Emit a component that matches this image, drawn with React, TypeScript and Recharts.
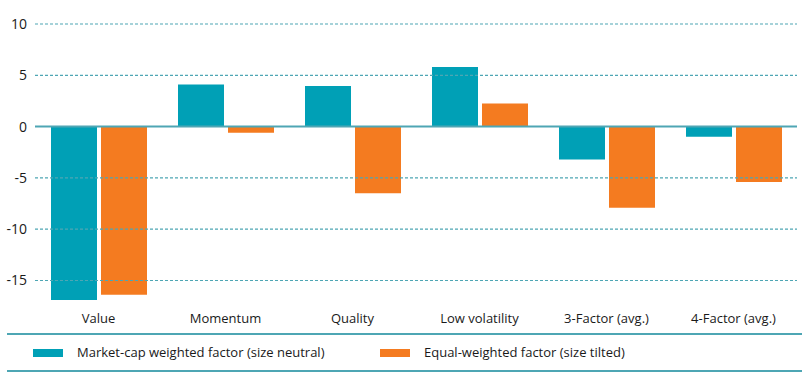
import { BarChart, Bar, XAxis, YAxis, ReferenceLine } from "recharts";

const categories = ["Value", "Momentum", "Quality", "Low volatility", "3-Factor (avg.)", "4-Factor (avg.)"];
const marketCap = [-16.9, 4.1, 3.95, 5.8, -3.2, -1.0];
const equalWeighted = [-16.4, -0.6, -6.5, 2.25, -7.9, -5.4];
const yTicks = [-15, -10, -5, 0, 5, 10];

const seriesNames = ["Market-cap weighted factor (size neutral)", "Equal-weighted factor (size tilted)"];
const TEAL = "#00a0b6";
const ORANGE = "#f47b20";
const LINE = "#4ea6b4";
const FONT = "'Open Sans', sans-serif";

const data = categories.map((name, i) => ({
  name,
  mcap: marketCap[i],
  ew: equalWeighted[i],
}));

const App = () => {
  return (
    <div style={{ position: "absolute", left: 0, top: 0, width: 807, height: 386, background: "#fff", fontFamily: FONT }}>
      <BarChart
        width={807}
        height={334}
        data={data}
        margin={{ top: 24, right: 10, left: 0, bottom: 0 }}
        barGap={4}
        barCategoryGap={16}
      >
        {/* dotted gridlines only at the labelled ticks */}
        {yTicks
          .filter((t) => t !== 0)
          .map((t) => (
            <ReferenceLine key={t} y={t} stroke={LINE} strokeDasharray="3 2" strokeWidth={1.2} />
          ))}
        <XAxis
          dataKey="name"
          axisLine={false}
          tickLine={false}
          tickSize={0}
          tickMargin={13}
          height={33}
          interval={0}
          tick={{ fontSize: 13, fill: "#1a1a1a", fontFamily: FONT }}
        />
        <YAxis
          domain={[-17, 10]}
          ticks={yTicks}
          axisLine={false}
          tickLine={false}
          tickSize={0}
          tickMargin={8}
          width={35}
          tick={{ fontSize: 14, fill: "#1a1a1a", fontFamily: FONT }}
        />
        <Bar dataKey="mcap" name={seriesNames[0]} fill={TEAL} isAnimationActive={false} />
        <Bar dataKey="ew" name={seriesNames[1]} fill={ORANGE} isAnimationActive={false} />
        <ReferenceLine y={0} stroke={LINE} strokeWidth={2} />
      </BarChart>

      {/* legend box between two teal rules */}
      <div
        style={{
          position: "absolute",
          left: 7,
          top: 333,
          width: 795,
          height: 35,
          borderTop: `2px solid ${LINE}`,
          borderBottom: `2px solid ${LINE}`,
          fontSize: 13,
          color: "#1a1a1a",
        }}
      >
        <div style={{ position: "absolute", left: 26, top: 14, width: 30, height: 8, background: TEAL }} />
        <div style={{ position: "absolute", left: 70, top: 8, lineHeight: "18px" }}>{seriesNames[0]}</div>
        <div style={{ position: "absolute", left: 373, top: 14, width: 30, height: 8, background: ORANGE }} />
        <div style={{ position: "absolute", left: 417, top: 8, lineHeight: "18px" }}>{seriesNames[1]}</div>
      </div>
    </div>
  );
};

export default App;
